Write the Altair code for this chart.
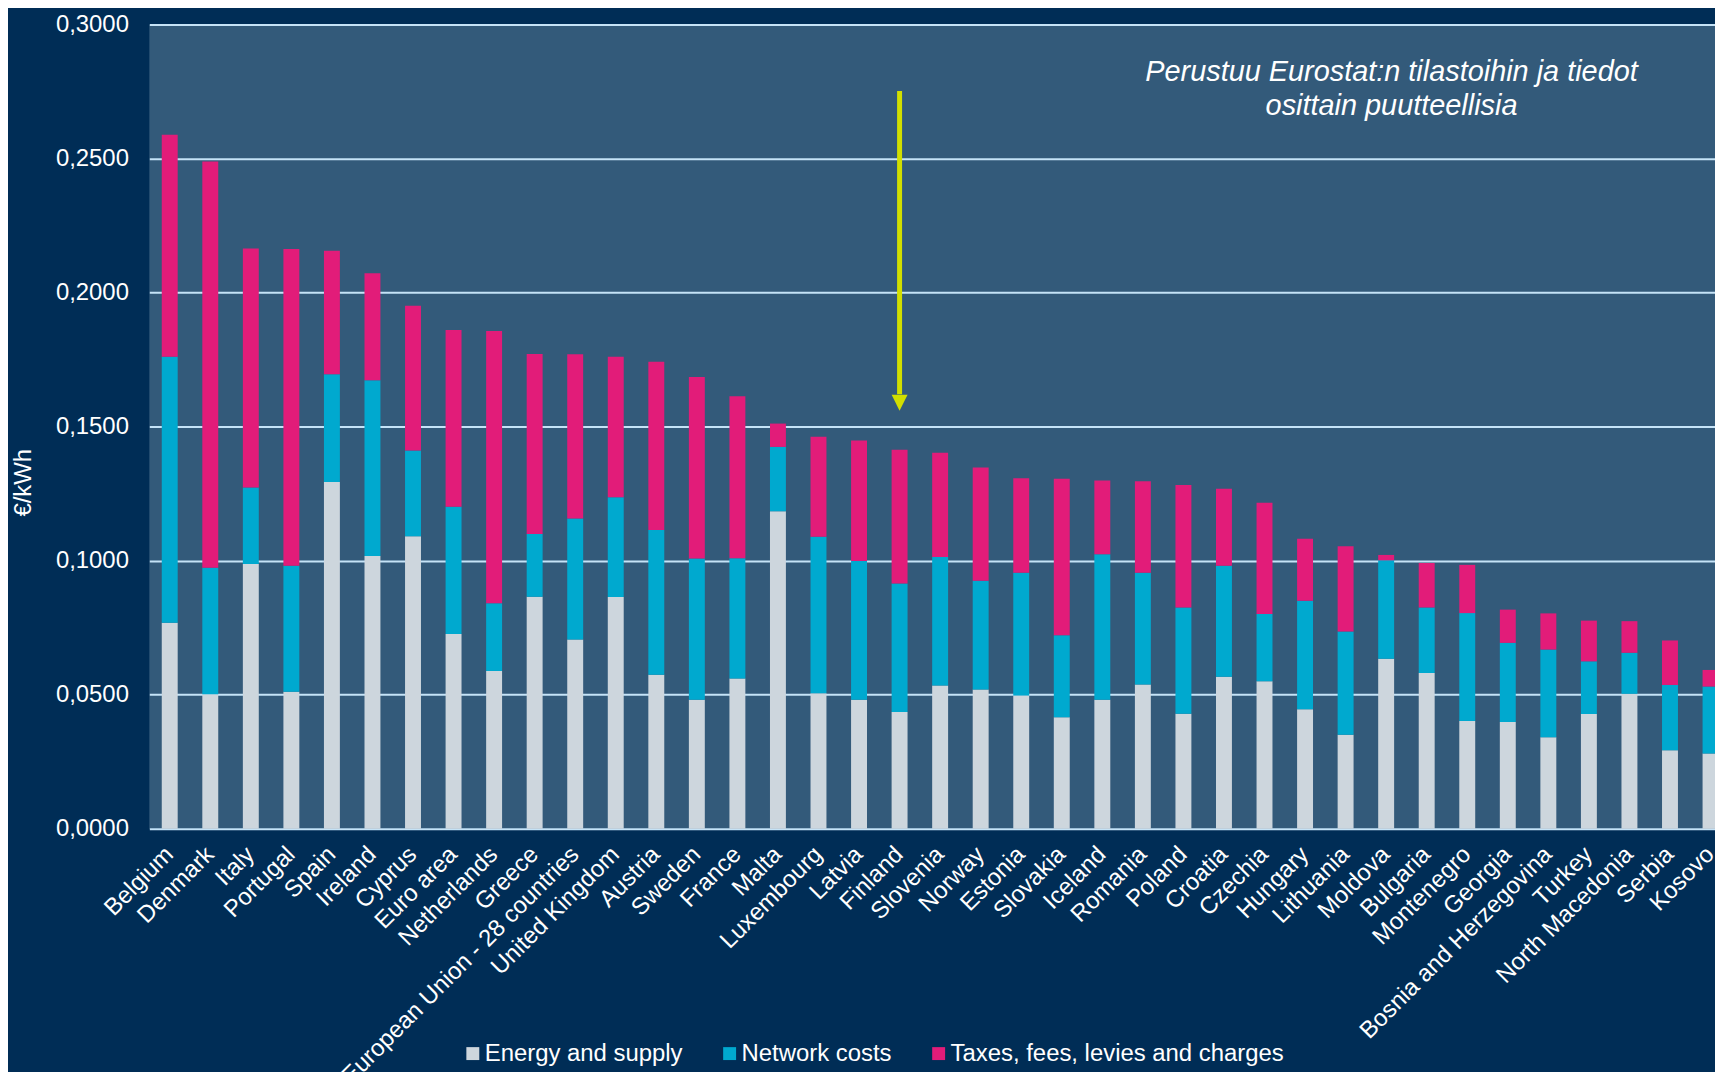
import altair as alt
import pandas as pd

countries = ["Belgium", "Denmark", "Italy", "Portugal", "Spain", "Ireland", "Cyprus",
             "Euro area", "Netherlands", "Greece", "European Union - 28 countries",
             "United Kingdom", "Austria", "Sweden", "France", "Malta", "Luxembourg",
             "Latvia", "Finland", "Slovenia", "Norway", "Estonia", "Slovakia", "Iceland",
             "Romania", "Poland", "Croatia", "Czechia", "Hungary", "Lithuania", "Moldova",
             "Bulgaria", "Montenegro", "Georgia", "Bosnia and Herzegovina", "Turkey",
             "North Macedonia", "Serbia", "Kosovo"]

energy = [0.0768, 0.0501, 0.0987, 0.0511, 0.1293, 0.1017, 0.1091, 0.0726, 0.0588, 0.0865,
          0.0706, 0.0864, 0.0574, 0.0481, 0.0560, 0.1184, 0.0505, 0.0481, 0.0435, 0.0534,
          0.0519, 0.0497, 0.0416, 0.0481, 0.0538, 0.0429, 0.0567, 0.0550, 0.0445, 0.0350,
          0.0634, 0.0581, 0.0402, 0.0398, 0.0341, 0.0428, 0.0503, 0.0292, 0.0280]

network = [0.0992, 0.0472, 0.0286, 0.0470, 0.0402, 0.0656, 0.0320, 0.0475, 0.0253, 0.0234,
           0.0451, 0.0372, 0.0540, 0.0527, 0.0449, 0.0240, 0.0584, 0.0517, 0.0479, 0.0479,
           0.0406, 0.0458, 0.0305, 0.0543, 0.0417, 0.0396, 0.0414, 0.0251, 0.0405, 0.0385,
           0.0367, 0.0244, 0.0402, 0.0295, 0.0327, 0.0196, 0.0153, 0.0244, 0.0250]

taxes = [0.0828, 0.1516, 0.0891, 0.1181, 0.0461, 0.0399, 0.0540, 0.0659, 0.1015, 0.0672,
         0.0613, 0.0524, 0.0628, 0.0677, 0.0604, 0.0087, 0.0373, 0.0450, 0.0499, 0.0389,
         0.0422, 0.0352, 0.0584, 0.0275, 0.0341, 0.0457, 0.0287, 0.0415, 0.0231, 0.0318,
         0.0020, 0.0166, 0.0180, 0.0124, 0.0135, 0.0152, 0.0118, 0.0166, 0.0062]

components = ["Energy and supply", "Network costs", "Taxes, fees, levies and charges"]
component_colors = ["#cdd6dd", "#00a9cf", "#e21c79"]

y_ticks = [0.0, 0.05, 0.10, 0.15, 0.20, 0.25, 0.30]
y_title = "€/kWh"

note_lines = ["Perustuu Eurostat:n tilastoihin ja tiedot", "osittain puutteellisia"]

arrow_country = "Finland"
arrow_top = 0.2752
arrow_base = 0.1620
arrow_head = 0.1589

rows = []
for i, c in enumerate(countries):
    for k, (comp, vals) in enumerate(zip(components, [energy, network, taxes])):
        rows.append({"country": c, "component": comp, "value": vals[i], "order": k})
df = pd.DataFrame(rows)

FONT = "Liberation Sans"
BG = "#002d56"
PLOT_BG = "#335a7a"
GRID = "#c5e3f7"
ARROW = "#d2df00"
SHIFT = 8

x_scale = alt.Scale(domain=countries, paddingInner=0.607, paddingOuter=0.11, round=False)
y_scale = alt.Scale(domain=[0, 0.3], nice=False, zero=True)

bars = alt.Chart(df).mark_bar(xOffset=SHIFT).encode(
    x=alt.X("country:N", sort=countries, scale=x_scale,
            axis=alt.Axis(title=None, labelAngle=-45, labelAlign="right",
                          labelBaseline="middle", labelFontSize=24, labelColor="white",
                          labelFont=FONT, labelPadding=22, labelLimit=0, labelOffset=SHIFT,
                          labelOverlap=False, ticks=False, domain=False, grid=False)),
    y=alt.Y("value:Q", stack="zero", scale=y_scale,
            axis=alt.Axis(values=y_ticks,
                          labelExpr="replace(format(datum.value, '.4f'), '.', ',')",
                          labelFontSize=24, labelColor="white", labelFont=FONT,
                          labelPadding=21, ticks=False, domain=False,
                          grid=True, gridColor=GRID, gridWidth=2,
                          title=y_title, titleColor="white", titleFont=FONT,
                          titleFontSize=24, titleFontWeight="normal",
                          titleAngle=270, titleX=-126, titleY=460,
                          titleAlign="center", titleBaseline="middle")),
    color=alt.Color("component:N", sort=components,
                    scale=alt.Scale(domain=components, range=component_colors),
                    legend=alt.Legend(title=None, orient="none", legendX=313, legendY=1022,
                                      direction="horizontal", symbolType="square",
                                      symbolSize=169, symbolStrokeWidth=0,
                                      labelFontSize=24, labelColor="white", labelFont=FONT,
                                      labelLimit=0, labelOffset=0, columnPadding=35,
                                      padding=0)),
    order=alt.Order("order:Q"),
)

arrow_df = pd.DataFrame({"country": [arrow_country], "top": [arrow_top],
                         "base": [arrow_base], "head": [arrow_head]})

arrow_shaft = alt.Chart(arrow_df).mark_rule(color=ARROW, strokeWidth=5, xOffset=SHIFT).encode(
    x=alt.X("country:N", sort=countries, scale=x_scale),
    y=alt.Y("top:Q", scale=y_scale),
    y2="base:Q",
)

arrow_tip = alt.Chart(arrow_df).mark_point(
    shape="M-1,-1L1,-1L0,1Z", size=256, filled=True, color=ARROW, opacity=1,
    strokeWidth=0, xOffset=SHIFT
).encode(
    x=alt.X("country:N", sort=countries, scale=x_scale),
    y=alt.Y("head:Q", scale=y_scale),
)

note = alt.Chart(pd.DataFrame({"t": [0]})).mark_text(
    font=FONT, fontSize=29, fontStyle="italic", color="white",
    align="center", baseline="alphabetic", lineHeight=34
).encode(
    x=alt.value(1248), y=alt.value(57), text=alt.value(note_lines)
)

chart = alt.layer(bars, arrow_shaft, arrow_tip, note).properties(
    width=1573, height=808,
    autosize=alt.AutoSizeParams(type="none"),
    padding={"left": 142, "top": 14, "right": 0, "bottom": 242},
    background=BG,
).configure(
    font=FONT
).configure_view(
    fill=PLOT_BG, strokeWidth=0
)

chart.save("out.html", embed_options={"renderer": "svg", "actions": False})
